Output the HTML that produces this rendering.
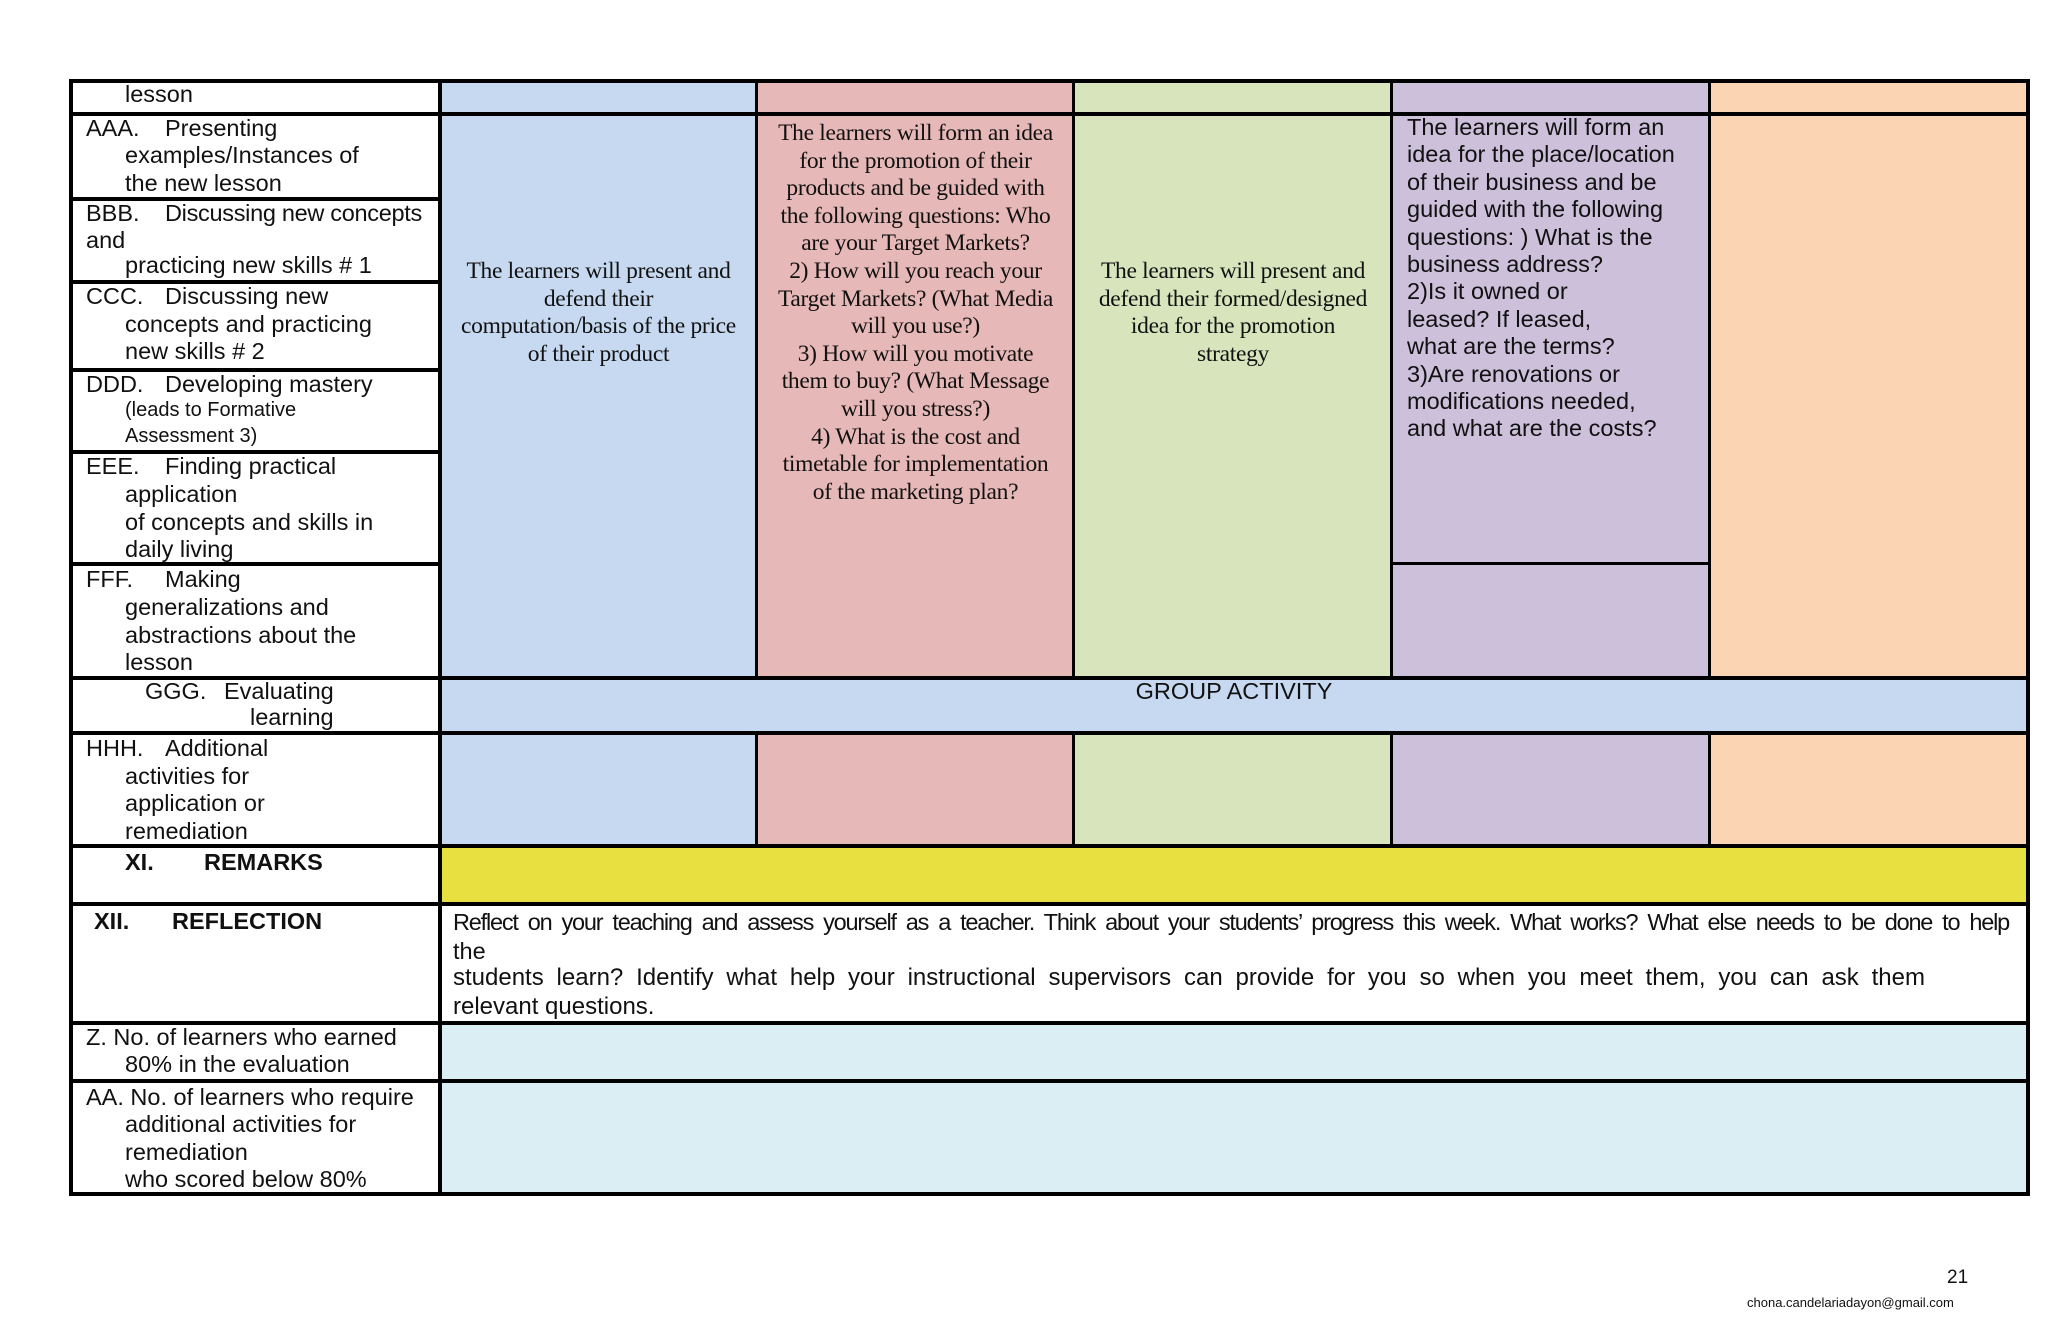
<!DOCTYPE html>
<html><head><meta charset="utf-8"><style>
body{margin:0;width:2048px;height:1339px;background:#fff;position:relative;overflow:hidden;font-family:"Liberation Sans",sans-serif;color:#111}
.r{position:absolute}
.l{position:absolute;font-size:23.5px;line-height:28px;height:28px;white-space:nowrap}
.h{position:absolute;background:#000}
.ser{position:absolute;font-family:"Liberation Serif",serif;font-size:23.5px;line-height:27.6px;text-align:center;white-space:nowrap}
</style></head><body>
<div class="r" style="left:440px;top:81px;width:317px;height:597px;background:#c6d9f0"></div>
<div class="r" style="left:757px;top:81px;width:317px;height:597px;background:#e6b8b7"></div>
<div class="r" style="left:1074px;top:81px;width:318px;height:597px;background:#d7e4bc"></div>
<div class="r" style="left:1392px;top:81px;width:318px;height:597px;background:#ccc0da"></div>
<div class="r" style="left:1710px;top:81px;width:318px;height:597px;background:#fbd4b4"></div>
<div class="r" style="left:440px;top:678px;width:1588px;height:55px;background:#c6d9f0"></div>
<div class="r" style="left:440px;top:733px;width:317px;height:113px;background:#c6d9f0"></div>
<div class="r" style="left:757px;top:733px;width:317px;height:113px;background:#e6b8b7"></div>
<div class="r" style="left:1074px;top:733px;width:318px;height:113px;background:#d7e4bc"></div>
<div class="r" style="left:1392px;top:733px;width:318px;height:113px;background:#ccc0da"></div>
<div class="r" style="left:1710px;top:733px;width:318px;height:113px;background:#fbd4b4"></div>
<div class="r" style="left:440px;top:846px;width:1588px;height:58px;background:#e8e040"></div>
<div class="r" style="left:440px;top:1023px;width:1588px;height:171px;background:#dbeef3"></div>
<div class="h" style="left:70px;top:79px;width:1960px;height:4px"></div>
<div class="h" style="left:70px;top:112px;width:1960px;height:4px"></div>
<div class="h" style="left:70px;top:197px;width:372px;height:4px"></div>
<div class="h" style="left:70px;top:280px;width:372px;height:4px"></div>
<div class="h" style="left:70px;top:368px;width:372px;height:4px"></div>
<div class="h" style="left:70px;top:450px;width:372px;height:4px"></div>
<div class="h" style="left:70px;top:562px;width:372px;height:4px"></div>
<div class="h" style="left:1392px;top:562px;width:318px;height:3px"></div>
<div class="h" style="left:70px;top:676px;width:1960px;height:4px"></div>
<div class="h" style="left:70px;top:731px;width:1960px;height:4px"></div>
<div class="h" style="left:70px;top:844px;width:1960px;height:4px"></div>
<div class="h" style="left:70px;top:902px;width:1960px;height:4px"></div>
<div class="h" style="left:70px;top:1021px;width:1960px;height:4px"></div>
<div class="h" style="left:70px;top:1079px;width:1960px;height:4px"></div>
<div class="h" style="left:70px;top:1192px;width:1960px;height:4px"></div>
<div class="h" style="left:69px;top:79px;width:4px;height:1117px"></div>
<div class="h" style="left:438px;top:79px;width:4px;height:1117px"></div>
<div class="h" style="left:2026px;top:79px;width:4px;height:1117px"></div>
<div class="h" style="left:755px;top:79px;width:3px;height:599px"></div>
<div class="h" style="left:1072px;top:79px;width:3px;height:599px"></div>
<div class="h" style="left:1390px;top:79px;width:3px;height:599px"></div>
<div class="h" style="left:1708px;top:79px;width:3px;height:599px"></div>
<div class="h" style="left:755px;top:733px;width:3px;height:113px"></div>
<div class="h" style="left:1072px;top:733px;width:3px;height:113px"></div>
<div class="h" style="left:1390px;top:733px;width:3px;height:113px"></div>
<div class="h" style="left:1708px;top:733px;width:3px;height:113px"></div>
<div class="l" style="left:125px;top:80px">lesson</div>
<div class="l" style="left:86px;top:114px">AAA.</div><div class="l" style="left:165px;top:114px">Presenting</div>
<div class="l" style="left:125px;top:141px">examples/Instances of</div>
<div class="l" style="left:125px;top:169px">the new lesson</div>
<div class="l" style="left:86px;top:199px">BBB.</div><div class="l" style="left:165px;top:199px;letter-spacing:-0.3px">Discussing new concepts</div>
<div class="l" style="left:86px;top:226px">and</div>
<div class="l" style="left:125px;top:251px">practicing new skills # 1</div>
<div class="l" style="left:86px;top:282px">CCC.</div><div class="l" style="left:165px;top:282px">Discussing new</div>
<div class="l" style="left:125px;top:310px">concepts and practicing</div>
<div class="l" style="left:125px;top:337px">new skills # 2</div>
<div class="l" style="left:86px;top:370px">DDD.</div><div class="l" style="left:165px;top:370px">Developing mastery</div>
<div class="l" style="left:125px;top:396px;font-size:20px">(leads to Formative</div>
<div class="l" style="left:125px;top:422px;font-size:20px">Assessment 3)</div>
<div class="l" style="left:86px;top:452px">EEE.</div><div class="l" style="left:165px;top:452px">Finding practical</div>
<div class="l" style="left:125px;top:480px">application</div>
<div class="l" style="left:125px;top:508px">of concepts and skills in</div>
<div class="l" style="left:125px;top:535px">daily living</div>
<div class="l" style="left:86px;top:565px">FFF.</div><div class="l" style="left:165px;top:565px">Making</div>
<div class="l" style="left:125px;top:593px">generalizations and</div>
<div class="l" style="left:125px;top:621px">abstractions about the</div>
<div class="l" style="left:125px;top:648px">lesson</div>
<div class="l" style="left:145px;top:677px">GGG.</div><div class="l" style="left:224px;top:677px">Evaluating</div>
<div class="l" style="left:250px;top:703px">learning</div>
<div class="l" style="left:86px;top:734px">HHH.</div><div class="l" style="left:165px;top:734px">Additional</div>
<div class="l" style="left:125px;top:762px">activities for</div>
<div class="l" style="left:125px;top:789px">application or</div>
<div class="l" style="left:125px;top:817px">remediation</div>
<div class="l" style="left:125px;top:848px;font-weight:bold">XI.</div><div class="l" style="left:204px;top:848px;font-weight:bold">REMARKS</div>
<div class="l" style="left:94px;top:907px;font-weight:bold">XII.</div><div class="l" style="left:172px;top:907px;font-weight:bold">REFLECTION</div>
<div class="l" style="left:86px;top:1023px">Z. No. of learners who earned</div>
<div class="l" style="left:125px;top:1050px">80% in the evaluation</div>
<div class="l" style="left:86px;top:1083px">AA. No. of learners who require</div>
<div class="l" style="left:125px;top:1110px">additional activities for</div>
<div class="l" style="left:125px;top:1138px">remediation</div>
<div class="l" style="left:125px;top:1165px">who scored below 80%</div>
<div class="ser" style="left:440px;top:258px;width:317px;letter-spacing:-0.3px">The learners will present and<br>defend their<br>computation/basis of the price<br>of their product</div>
<div class="ser" style="left:757px;top:120px;width:317px;letter-spacing:-0.3px">The learners will form an idea<br>for the promotion of their<br>products and be guided with<br>the following questions: Who<br>are your Target Markets?<br>2) How will you reach your<br>Target Markets? (What Media<br>will you use?)<br>3) How will you motivate<br>them to buy? (What Message<br>will you stress?)<br>4) What is the cost and<br>timetable for implementation<br>of the marketing plan?</div>
<div class="ser" style="left:1074px;top:258px;width:318px;letter-spacing:-0.3px">The learners will present and<br>defend their formed/designed<br>idea for the promotion<br>strategy</div>
<div class="r" style="left:1407px;top:114px;font-size:23.5px;line-height:27.4px;white-space:nowrap">The learners will form an<br>idea for the place/location<br>of their business and be<br>guided with the following<br>questions: ) What is the<br>business address?<br>2)Is it owned or<br>leased? If leased,<br>what are the terms?<br>3)Are renovations or<br>modifications needed,<br>and what are the costs?</div>
<div class="l" style="left:440px;top:677px;width:1588px;text-align:center">GROUP ACTIVITY</div>
<div class="l" style="left:453px;top:908px;width:1556px;font-size:23.5px;letter-spacing:-1.2px;word-spacing:-1px;text-align:justify;text-align-last:justify">Reflect on your teaching and assess yourself as a teacher. Think about your students’ progress this week. What works? What else needs to be done to help</div>
<div class="l" style="left:453px;top:937px">the</div>
<div class="l" style="left:453px;top:964px;width:1472px;font-size:24px;text-align:justify;text-align-last:justify">students learn? Identify what help your instructional supervisors can provide for you so when you meet them, you can ask them</div>
<div class="l" style="left:453px;top:993px;font-size:24px">relevant questions.</div>
<div class="r" style="left:1947px;top:1267px;font-size:19px">21</div>
<div class="r" style="left:1747px;top:1295px;font-size:13px">chona.candelariadayon@gmail.com</div>
</body></html>
